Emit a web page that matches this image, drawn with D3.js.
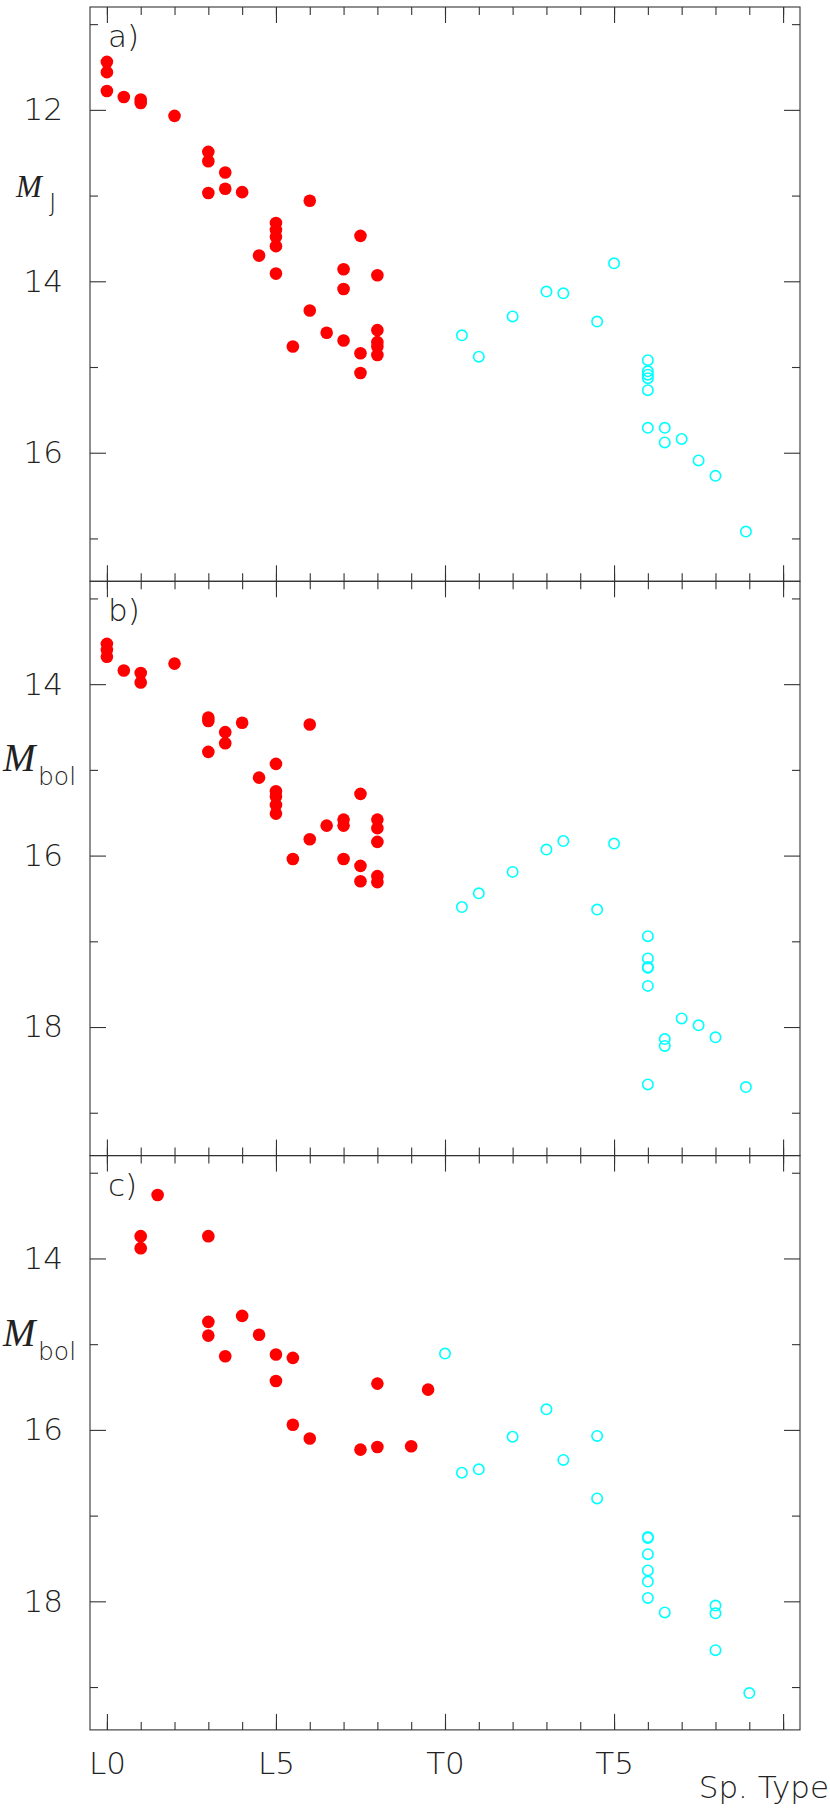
<!DOCTYPE html>
<html>
<head>
<meta charset="utf-8">
<script src="https://cdn.jsdelivr.net/npm/d3@7"></script>
<style>
  body { margin: 0; background: #fff; }
  svg { display: block; }
  .tick text { font-family: "DejaVu Sans", sans-serif; font-weight: 200; fill: #222; }
</style>
</head>
<body>
<div id="chart"></div>
<script>
// Spectral type axis: L0 = 0, T0 = 10
const spDomain = [-0.5, 20.5];
const spMajor = [0, 5, 10, 15, 20];
const spMinor = d3.range(0, 21);
const spLabels = { 0: "L0", 5: "L5", 10: "T0", 15: "T5" };

// magnitude ranges of each panel
const magDomainA = [10.8, 17.5];
const magDomainB = [12.8, 19.5];
const magDomainC = [12.8, 19.5];
const magMajorA = [12, 14, 16];
const magMinorA = [11, 13, 15, 17];
const magMajorBC = [14, 16, 18];
const magMinorBC = [13, 15, 17, 19];

// a) M_J  — [spectral type, magnitude]
const aLdwarfs = [[0,11.44],[0,11.56],[0,11.78],[0.5,11.85],[1,11.88],[1,11.92],[2,12.07],[3,12.49],[3,12.60],[3,12.97],
  [3.5,12.73],[3.5,12.92],[4,12.96],[4.5,13.70],[5,13.32],[5,13.40],[5,13.48],[5,13.59],[5,13.91],[5.5,14.76],
  [6,13.06],[6,14.34],[6.5,14.60],[7,13.86],[7,14.09],[7,14.69],[7.5,13.47],[7.5,14.84],[7.5,15.07],
  [8,13.93],[8,14.57],[8,14.71],[8,14.76],[8,14.86]];
const aTdwarfs = [[10.5,14.63],[11,14.88],[12,14.41],[13,14.12],[13.5,14.14],[14.5,14.47],[15,13.79],
  [16,14.92],[16,15.05],[16,15.09],[16,15.13],[16,15.27],[16,15.71],[16.5,15.71],[16.5,15.88],
  [17,15.84],[17.5,16.09],[18,16.27],[18.9,16.92]];

// b) M_bol
const bLdwarfs = [[0,13.53],[0,13.60],[0,13.68],[0.5,13.84],[1,13.87],[1,13.98],[2,13.76],[3,14.39],[3,14.43],[3,14.79],
  [3.5,14.56],[3.5,14.69],[4,14.45],[4.5,15.09],[5,14.93],[5,15.25],[5,15.31],[5,15.41],[5,15.51],[5.5,16.04],
  [6,14.47],[6,15.81],[6.5,15.65],[7,15.58],[7,15.65],[7,16.04],[7.5,15.28],[7.5,16.12],[7.5,16.30],
  [8,15.58],[8,15.68],[8,15.84],[8,16.24],[8,16.31]];
const bTdwarfs = [[10.5,16.60],[11,16.44],[12,16.19],[13,15.93],[13.5,15.83],[14.5,16.63],[15,15.86],
  [16,16.94],[16,17.20],[16,17.30],[16,17.31],[16,17.52],[16,18.67],[16.5,18.14],[16.5,18.22],
  [17,17.90],[17.5,17.98],[18,18.12],[18.9,18.70]];

// c) M_bol
const cLdwarfs = [[1,13.74],[1,13.88],[1.5,13.26],[3,13.74],[3,14.74],[3,14.90],[3.5,15.14],[4,14.67],[4.5,14.89],
  [5,15.12],[5,15.43],[5.5,15.16],[5.5,15.94],[6,16.10],[7.5,16.23],[8,15.46],[8,16.20],[9,16.19],[9.5,15.53]];
const cTdwarfs = [[10,15.11],[10.5,16.50],[11,16.46],[12,16.08],[13,15.76],[13.5,16.35],[14.5,16.07],[14.5,16.80],
  [16,17.25],[16,17.26],[16,17.45],[16,17.64],[16,17.77],[16,17.96],[16.5,18.13],
  [18,18.05],[18,18.14],[18,18.57],[19,19.07]];

const width = 830, height = 1810;
const left = 90, right = 800, top0 = 7, panelH = 574.3;

const panels = [
  { tag: "a)", sub: "J", mSize: 31, mX: 16, subX: 49, domain: magDomainA, major: magMajorA, minor: magMinorA, L: aLdwarfs, T: aTdwarfs },
  { tag: "b)", sub: "bol", mSize: 39, mX: 3, subX: 38, domain: magDomainB, major: magMajorBC, minor: magMinorBC, L: bLdwarfs, T: bTdwarfs },
  { tag: "c)", sub: "bol", mSize: 39, mX: 3, subX: 38, domain: magDomainC, major: magMajorBC, minor: magMinorBC, L: cLdwarfs, T: cTdwarfs }
];

const svg = d3.select("#chart").append("svg")
  .attr("width", width)
  .attr("height", height);

const x = d3.scaleLinear().domain(spDomain).range([left, right]);

panels.forEach((p, i) => {
  const y0 = top0 + i * panelH;
  const y = d3.scaleLinear().domain(p.domain).range([y0, y0 + panelH]);
  const g = svg.append("g");
  const isLast = i === panels.length - 1;

  // tick marks on all four sides, pointing inward
  const addAxis = (axis, transform) => {
    g.append("g")
      .attr("transform", transform)
      .call(axis)
      .call(a => a.select(".domain").remove())
      .call(a => a.selectAll("line").attr("stroke", "#333").attr("stroke-width", 1.1));
  };
  addAxis(d3.axisTop(x).tickValues(spMajor).tickSize(-16).tickFormat(""), `translate(0,${y0})`);
  addAxis(d3.axisTop(x).tickValues(spMinor).tickSize(-8).tickFormat(""), `translate(0,${y0})`);
  addAxis(d3.axisBottom(x).tickValues(spMajor).tickSize(-16).tickPadding(22)
    .tickFormat(d => isLast ? (spLabels[d] || "") : ""), `translate(0,${y0 + panelH})`);
  addAxis(d3.axisBottom(x).tickValues(spMinor).tickSize(-8).tickFormat(""), `translate(0,${y0 + panelH})`);
  addAxis(d3.axisLeft(y).tickValues(p.major).tickSize(-16).tickPadding(27).tickFormat(d3.format("d")), `translate(${left},0)`);
  addAxis(d3.axisLeft(y).tickValues(p.minor).tickSize(-8).tickFormat(""), `translate(${left},0)`);
  addAxis(d3.axisRight(y).tickValues(p.major).tickSize(-16).tickFormat(""), `translate(${right},0)`);
  addAxis(d3.axisRight(y).tickValues(p.minor).tickSize(-8).tickFormat(""), `translate(${right},0)`);

  g.selectAll(".tick text").style("font-size", "31px");

  // frame
  g.append("rect")
    .attr("x", left).attr("y", y0)
    .attr("width", right - left).attr("height", panelH)
    .attr("fill", "none").attr("stroke", "#333").attr("stroke-width", 1.1);

  // panel tag
  g.append("text")
    .attr("x", 108).attr("y", y0 + 40)
    .style("font-family", "DejaVu Sans, sans-serif")
    .style("font-weight", 200)
    .style("font-size", "31px")
    .attr("fill", "#222")
    .text(p.tag);

  // y-axis label
  g.append("text")
    .attr("x", p.mX).attr("y", y0 + 190)
    .style("font-family", "Liberation Serif, serif")
    .style("font-style", "italic")
    .style("font-size", p.mSize + "px")
    .attr("fill", "#222")
    .text("M");
  g.append("text")
    .attr("x", p.subX).attr("y", y0 + 204)
    .style("font-family", "DejaVu Sans, sans-serif")
    .style("font-weight", 200)
    .style("font-size", "25px")
    .attr("fill", "#222")
    .text(p.sub);

  // L dwarfs: filled red
  g.selectAll(".ldw")
    .data(p.L)
    .enter()
    .append("circle")
    .attr("class", "ldw")
    .attr("cx", d => x(d[0]))
    .attr("cy", d => y(d[1]))
    .attr("r", 6.3)
    .attr("fill", "#ff0000");

  // T dwarfs: open cyan
  g.selectAll(".tdw")
    .data(p.T)
    .enter()
    .append("circle")
    .attr("class", "tdw")
    .attr("cx", d => x(d[0]))
    .attr("cy", d => y(d[1]))
    .attr("r", 5.2)
    .attr("fill", "none")
    .attr("stroke", "#00ffff")
    .attr("stroke-width", 1.6);
});

// x-axis title
svg.append("text")
  .attr("x", 829).attr("y", 1798)
  .attr("text-anchor", "end")
  .style("font-family", "DejaVu Sans, sans-serif")
  .style("font-weight", 200)
  .style("font-size", "31px")
  .attr("fill", "#222")
  .text("Sp. Type");
</script>
</body>
</html>
